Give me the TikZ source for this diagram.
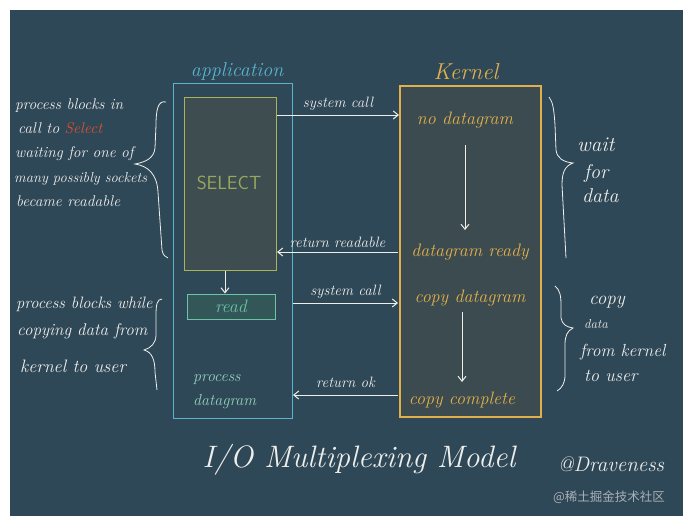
\documentclass[tikz,border=0pt]{standalone}
\usepackage{fontspec}
\newfontfamily\cjk{Noto Sans CJK SC}
\usetikzlibrary{arrows.meta}
\definecolor{board}{HTML}{2F4858}
\definecolor{appc}{HTML}{5AB4CC}
\definecolor{kerc}{HTML}{E2B04A}
\definecolor{selc}{HTML}{A9B45A}
\definecolor{selt}{HTML}{98A65E}
\definecolor{readc}{HTML}{6CC4A4}
\definecolor{chalk}{HTML}{EEEEEA}
\definecolor{redc}{HTML}{E0502A}
\definecolor{kfill}{HTML}{3C4B50}
\definecolor{sfill}{HTML}{3E4E50}
\definecolor{rfill}{HTML}{335658}
\definecolor{wm}{HTML}{A8B0B6}
\newcommand\fsz[1]{\fontsize{#1}{#1}\selectfont\itshape}
\tikzset{
  hand/.style={text=chalk, inner sep=0pt},
  note/.style={hand, anchor=base west},
  ktext/.style={font=\fsz{18}, text=kerc, inner sep=0pt, anchor=base},
  conn/.style={draw=chalk, line width=1pt, -{Straight Barb[length=5pt,width=8pt]}},
  clabel/.style={font=\fsz{15}, text=chalk, inner sep=0pt, anchor=base},
  bracel/.style={draw=chalk, line width=0.8pt},
}
\begin{document}
\begin{tikzpicture}[x=1pt,y=-1pt]
\useasboundingbox (0,0) rectangle (692,522);
\fill[white] (0,0) rectangle (692,522);
\fill[board] (10,10) rectangle (683,516);

% application
\node[font=\fsz{20}, text=appc, inner sep=0pt, anchor=base] (apptitle) at (237,76) {application};
\draw[appc, line width=1pt] (173,83) rectangle (292,418);
\node[draw=selc, fill=sfill, line width=1pt, minimum width=92pt, minimum height=173pt, inner sep=0pt] (sel) at (230,183.5) {};
\node[font=\fontsize{19}{19}\selectfont\sffamily, text=selt] (seltext) at (229,183) {SELECT};
\node[draw=readc, fill=rfill, line width=1pt, minimum width=88pt, minimum height=25pt, inner sep=0pt, font=\fsz{18}, text=readc] (read) at (231,306.5) {read};
\draw[conn] (sel.south -| 225,0) -- (read.north -| 225,0);
\node[font=\fsz{16}, text=readc!70!chalk, inner sep=0pt, anchor=base west] (proc1) at (193,381) {process};
\node[font=\fsz{16}, text=readc!70!chalk, inner sep=0pt, anchor=base west] (proc2) at (193,405) {datagram};

% kernel
\node[font=\fsz{23}, text=kerc, inner sep=0pt, anchor=base] (kertitle) at (466,79) {Kernel};
\node[draw=kerc, fill=kfill, line width=1.2pt, minimum width=141pt, minimum height=331pt, inner sep=0pt] (ker) at (470.5,251.5) {};
\node[ktext] (nodg) at (465,124) {no datagram};
\node[ktext] (dgready) at (470,256) {datagram ready};
\node[ktext] (copydg) at (470,302) {copy datagram};
\node[ktext] (copycomp) at (462,404) {copy complete};
\draw[conn] (465,145) -- (465,230);
\draw[conn] (462,312) -- (462,382);

% connectors
\coordinate (s1a) at (277,115);
\coordinate (s1b) at (399,115);
\draw[conn] (s1a) -- node[clabel, above=4pt] {system call} (s1b);
\coordinate (r1a) at (398,252);
\coordinate (r1b) at (277,252);
\draw[conn] (r1a) -- node[clabel, above=4pt] {return readable} (r1b);
\coordinate (s2a) at (293,303);
\coordinate (s2b) at (398,303);
\draw[conn] (s2a) -- node[clabel, above=4pt] {system call} (s2b);
\coordinate (r2a) at (398,395);
\coordinate (r2b) at (293,395);
\draw[conn] (r2a) -- node[clabel, above=7pt] {return ok} (r2b);

% left notes
\node[note, font=\fsz{15.5}] (l1) at (15,109) {process blocks in};
\node[note, font=\fsz{15.5}] (l2) at (18,133) {call to \textcolor{redc}{Select}};
\node[note, font=\fsz{15.5}] (l3) at (15,157) {waiting for one of};
\node[note, font=\fsz{14.5}] (l4) at (14,182) {many possibly sockets};
\node[note, font=\fsz{15.5}] (l5) at (16,206) {became readable};
\draw[bracel] (166,102) .. controls (158,100) and (156,110) .. (156,125)
  -- (155,148) .. controls (154,158) and (146,162) .. (135,164)
  .. controls (148,166) and (157,174) .. (158,192) -- (162,250) .. controls (163,255) and (165,257) .. (168,258);

\node[note, font=\fsz{16.5}] (m1) at (16,308) {process blocks while};
\node[note, font=\fsz{17}] (m2) at (17,335) {copying data from};
\node[note, font=\fsz{18}] (m3) at (20,372) {kernel to user};
\draw[bracel] (162,299) .. controls (157,299) and (156,305) .. (156,315)
  -- (156,335) .. controls (156,343) and (151,348) .. (144,350)
  .. controls (152,352) and (155,360) .. (155,372) -- (157,390);

% right notes
\draw[bracel] (549,97) .. controls (553,102) and (554,110) .. (555,125)
  -- (556,150) .. controls (557,158) and (563,162) .. (573,163)
  .. controls (565,166) and (562,172) .. (562,185) -- (566,258);
\node[note, font=\fsz{21}] (w1) at (577,151) {wait};
\node[note, font=\fsz{20}] (w2) at (584,178) {for};
\node[note, font=\fsz{20}] (w3) at (582,202) {data};

\draw[bracel] (555,286) .. controls (560,290) and (561,296) .. (561,305)
  -- (561,318) .. controls (562,324) and (566,327) .. (573,328)
  .. controls (567,331) and (565,336) .. (565,345) -- (565,375) .. controls (565,383) and (562,388) .. (557,391);
\node[note, font=\fsz{19}] (c1) at (589,304) {copy};
\node[note, font=\fsz{13}] (c2) at (584,328) {data};
\node[note, font=\fsz{17.5}] (c3) at (580,356) {from kernel};
\node[note, font=\fsz{18}] (c4) at (584,381) {to user};

% bottom
\node[hand, font=\fsz{31}, anchor=base] (title) at (359,467) {I/O Multiplexing Model};
\node[hand, font=\fsz{21}, anchor=base] (author) at (611,471) {@Draveness};
\node[font=\fontsize{12.5}{14}\selectfont\cjk, text=wm, inner sep=0pt] (wmark) at (609,497) {@稀土掘金技术社区};
\end{tikzpicture}
\end{document}
